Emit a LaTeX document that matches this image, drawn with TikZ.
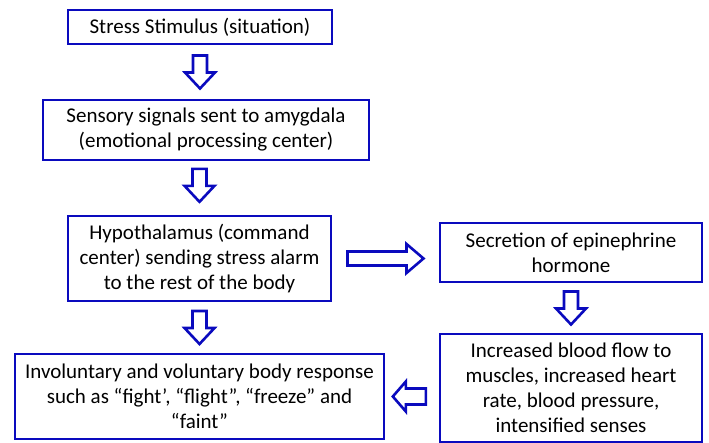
\documentclass[tikz,border=0pt]{standalone}
\usepackage{fontspec}
\setmainfont{Carlito}
\usetikzlibrary{calc}
\definecolor{boxblue}{RGB}{10,10,190}

\tikzset{
  box/.style={draw=boxblue, line width=2.6pt, align=center, inner sep=0pt,
    font=\fontsize{21}{25}\selectfont},
  arrowline/.style={draw=boxblue, fill=white, line width=2.6pt, line join=miter},
  pics/blockarrow/.style args={#1/#2/#3/#4}{code={
    \draw[arrowline] (-#1/2,-#3) -- (#1/2-#2,-#3) -- (#1/2-#2,-#4) -- (#1/2,0)
      -- (#1/2-#2,#4) -- (#1/2-#2,#3) -- (-#1/2,#3) -- cycle;
  }}
}

\begin{document}
\begin{tikzpicture}[x=1pt,y=1pt]
\useasboundingbox (0,0) rectangle (709,-443);
%---left column-------------------------------------
\node[box, minimum width=264, minimum height=34] (stim) at (200,-27) {Stress Stimulus (situation)};
\node[box, minimum width=326, minimum height=60] (sens) at (206,-130) {Sensory signals sent to amygdala\\(emotional processing center)};
\node[box, minimum width=263, minimum height=85] (hypo) at (199.5,-258.5) {Hypothalamus (command\\center) sending stress alarm\\to the rest of the body};
\node[box, minimum width=369, minimum height=85] (resp) at (199.5,-396.5) {Involuntary and voluntary body response\\such as “fight’, “flight”, “freeze” and\\“faint”};
%---right column------------------------------------
\node[box, minimum width=262, minimum height=59] (secr) at (571,-252.5) {Secretion of epinephrine\\hormone};
\node[box, minimum width=262, minimum height=108] (incr) at (571,-388) {Increased blood flow to\\muscles, increased heart\\rate, blood pressure,\\intensified senses};
%---block arrows------------------------------------
\path ($(stim.south)!.5!(sens.north -| stim.south)$) pic[rotate=-90]{blockarrow=33/16/7/15};
\path ($(sens.south -| hypo.north)!.45!(hypo.north)$) pic[rotate=-90]{blockarrow=33/16/7/15};
\path ($(hypo.south)!.5!(resp.north -| hypo.south)$) pic[rotate=-90]{blockarrow=33/16/7/15};
\path ($(hypo.east)!.5!(secr.west |- hypo.east)$) pic{blockarrow=76/17/7/14.5};
\path ($(secr.south)!.5!(incr.north)$) pic[rotate=-90]{blockarrow=33/16/7/15};
\path ($(incr.west |- resp.east)!.55!(resp.east)$) pic[rotate=180]{blockarrow=33/13/8/15};
\end{tikzpicture}
\end{document}
